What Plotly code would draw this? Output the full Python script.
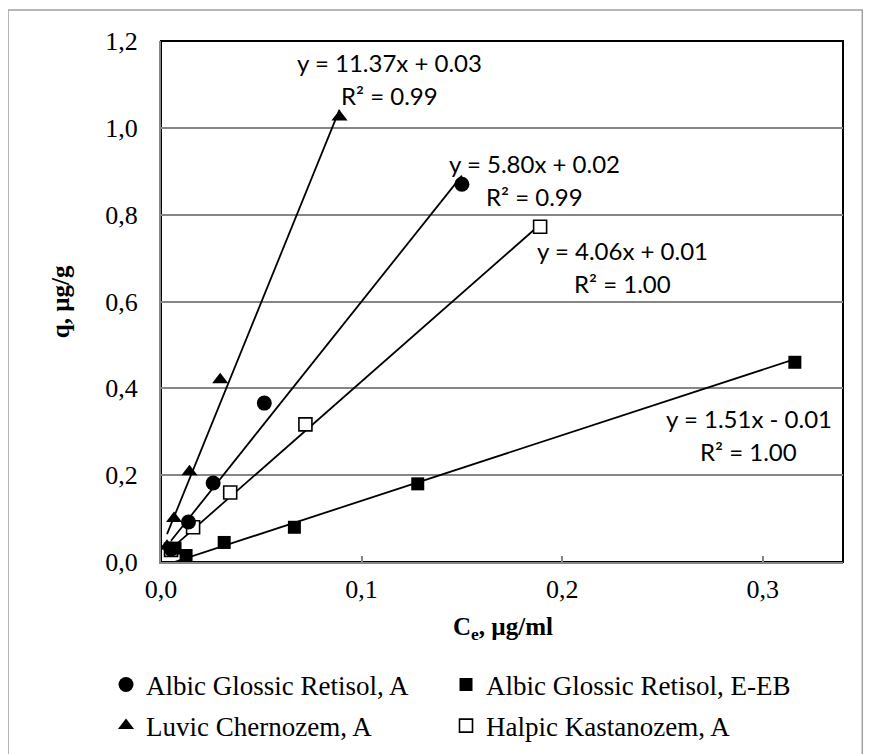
import plotly.graph_objects as go

# ---- data ----
series_names = ["Albic Glossic Retisol, A", "Albic Glossic Retisol, E-EB",
                "Luvic Chernozem, A", "Halpic Kastanozem, A"]

agr_a_x = [0.005, 0.0137, 0.026, 0.0515, 0.150]
agr_a_y = [0.030, 0.092, 0.182, 0.366, 0.870]

agr_eeb_x = [0.007, 0.0125, 0.0315, 0.0665, 0.128, 0.316]
agr_eeb_y = [0.032, 0.015, 0.045, 0.080, 0.180, 0.460]

luvic_x = [0.003, 0.0065, 0.0142, 0.0295, 0.089]
luvic_y = [0.036, 0.100, 0.208, 0.420, 1.025]

halpic_x = [0.005, 0.016, 0.0345, 0.072, 0.189]
halpic_y = [0.028, 0.080, 0.160, 0.317, 0.772]

# trendline coefficients as printed on the chart
slopes = [5.80, 1.51, 11.37, 4.06]
intercepts = [0.02, -0.01, 0.03, 0.01]
r2_values = ["0.99", "1.00", "0.99", "1.00"]

x_ticks = [0.0, 0.1, 0.2, 0.3]
y_ticks = [0.0, 0.2, 0.4, 0.6, 0.8, 1.0, 1.2]

# ---- figure ----
SERIF = "Liberation Serif"
SANS = "Lato"
GRID = "#868686"

xs = [agr_a_x, agr_eeb_x, luvic_x, halpic_x]
ys = [agr_a_y, agr_eeb_y, luvic_y, halpic_y]
markers = [
    dict(symbol="circle", size=15, color="black"),
    dict(symbol="square", size=13, color="black"),
    dict(symbol="triangle-up", size=14, color="black"),
    dict(symbol="square", size=13, color="white", line=dict(color="black", width=1.6)),
]
legend_ids = ["legend", "legend2", "legend3", "legend4"]

fig = go.Figure()

draw_order = [3, 0, 1, 2]
for i in draw_order:
    x0, x1 = min(xs[i]), max(xs[i])
    fig.add_trace(go.Scatter(
        x=[x0, x1], y=[slopes[i] * x0 + intercepts[i], slopes[i] * x1 + intercepts[i]],
        mode="lines", line=dict(color="black", width=1.8),
        showlegend=False, hoverinfo="skip"))
for i in draw_order:
    fig.add_trace(go.Scatter(
        x=xs[i], y=ys[i], mode="markers", name=series_names[i],
        marker=markers[i], legend=legend_ids[i], cliponaxis=False))

# trendline equation labels
eq_pos = [(0.186, 0.919), (0.2931, 0.3295), (0.1137, 1.150), (0.2303, 0.7166)]
for i, (ax, ay) in enumerate(eq_pos):
    sign = "+" if intercepts[i] >= 0 else "-"
    fig.add_annotation(x=ax, y=ay, xref="x", yref="y",
                       text=f"y = {slopes[i]:.2f}x {sign} {abs(intercepts[i]):.2f}",
                       showarrow=False, font=dict(family=SANS, size=24, color="black"),
                       xanchor="center", yanchor="middle")
    fig.add_annotation(x=ax, y=ay - 0.076, xref="x", yref="y",
                       text=f"R² = {r2_values[i]}",
                       showarrow=False, font=dict(family=SANS, size=24, color="black"),
                       xanchor="center", yanchor="middle")

# axis titles
fig.add_annotation(x=-0.147, y=0.5, xref="paper", yref="paper", textangle=-90,
                   xanchor="center", yanchor="middle",
                   text="<b>q, µg/g</b>", showarrow=False,
                   font=dict(family=SERIF, size=25, color="black"))
fig.add_annotation(x=0.501, y=-0.127, xref="paper", yref="paper",
                   xanchor="center", yanchor="middle",
                   text="<b>C<sub>e</sub>, µg/ml</b>", showarrow=False,
                   font=dict(family=SERIF, size=25, color="black"))

# plot-area border and outer chart border
fig.add_shape(type="rect", xref="paper", yref="paper", x0=0, y0=0, x1=1, y1=1,
              line=dict(color="black", width=2), layer="below")
fig.add_shape(type="rect", xref="paper", yref="paper",
              x0=-0.2243, y0=-0.37, x1=1.0283, y1=1.0595,
              line=dict(color="#a0a0a0", width=1.5), layer="below")

# one single-entry legend per series, laid out in a 2x2 grid
legend_xy = [(0.1124, 0.1021), (0.5023, 0.1021), (0.1124, 0.0477), (0.5023, 0.0477)]
legend_layout = {}
for lid, (lx, ly) in zip(legend_ids, legend_xy):
    legend_layout[lid] = dict(orientation="h", xref="container", yref="container",
                              x=lx, xanchor="left", y=ly, yanchor="middle",
                              bgcolor="rgba(0,0,0,0)",
                              font=dict(family=SERIF, size=27, color="black"),
                              itemclick=False)

fig.update_layout(
    width=872, height=754,
    margin=dict(l=153, r=37, t=33, b=200),
    paper_bgcolor="white", plot_bgcolor="white",
    separators=", ",
    font=dict(family=SERIF, size=26, color="black"),
    xaxis=dict(range=[0, 0.34], tickvals=x_ticks, tickformat=".1f",
               showgrid=False, zeroline=False,
               showline=True, linecolor=GRID, linewidth=2,
               ticks="inside", ticklen=6, tickcolor=GRID, tickwidth=1.5,
               tickfont=dict(family=SERIF, size=26, color="black"), ticklabelstandoff=3),
    yaxis=dict(range=[0, 1.2], tickvals=y_ticks, tickformat=".1f",
               showgrid=True, gridcolor=GRID, gridwidth=1.5, zeroline=False,
               showline=True, linecolor=GRID, linewidth=2, ticks="",
               tickfont=dict(family=SERIF, size=26, color="black"), ticklabelstandoff=16),
    **legend_layout,
)

fig.write_html("out.html")
